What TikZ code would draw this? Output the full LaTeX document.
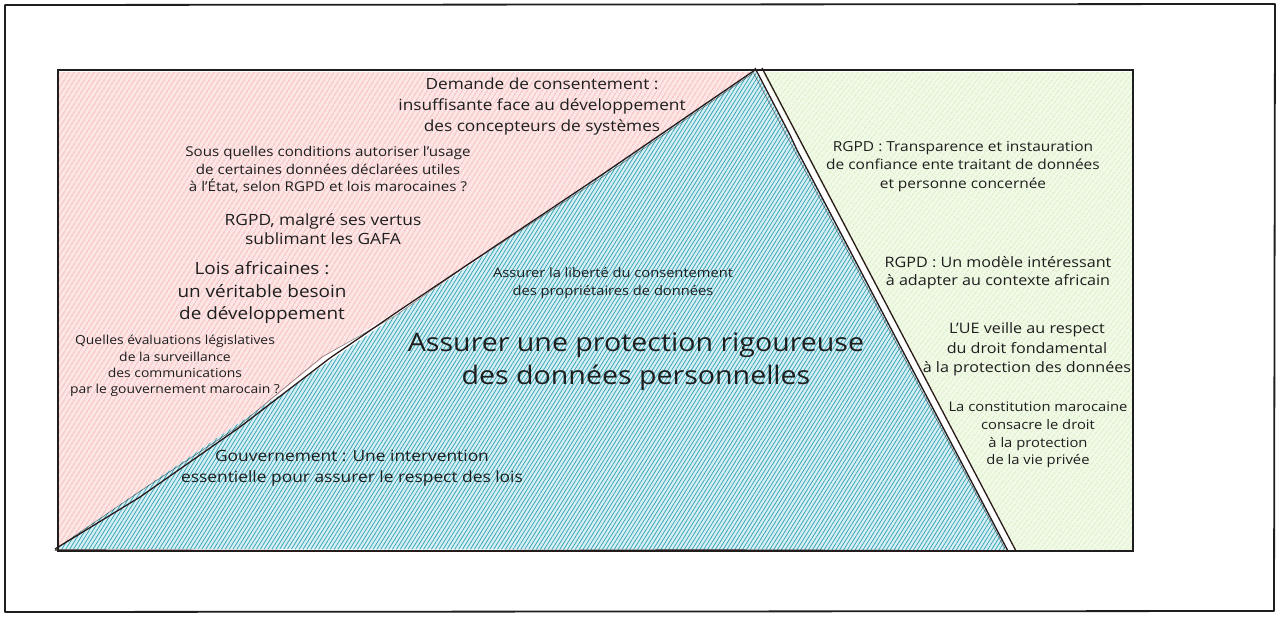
\documentclass[tikz,border=0pt]{standalone}
\usepackage{fontspec}
\setmainfont{Open Sans}[FakeStretch=1.12]
\usetikzlibrary{patterns.meta}
\definecolor{ink}{HTML}{1E1E1E}
\definecolor{edgeink}{HTML}{2A1A1A}
\definecolor{redbase}{HTML}{FCE6E6}
\definecolor{redline}{HTML}{F29C9C}
\definecolor{bluebase}{HTML}{D6EFF3}
\definecolor{blueline}{HTML}{33A3B7}
\definecolor{greenbase}{HTML}{F1F9E7}
\definecolor{greenline}{HTML}{C6E3A2}
\begin{document}
\begin{tikzpicture}[x=1pt,y=-1pt,
  txt/.style={text=ink, align=center, inner sep=0pt},
  fs/.style 2 args={font=\fontsize{#1}{#2}\selectfont},
  edge/.style={draw=edgeink, line width=1.3pt, line join=round},
  thinedge/.style={draw=edgeink, line width=0.6pt, opacity=0.55, line join=round}]
\useasboundingbox (0,0) rectangle (1280,617);
\fill[white] (0,0) rectangle (1280,617);
% regions
\fill[redbase] (59,72) -- (754,72) -- (600,175) -- (470,262) -- (392,314) -- (325,356) -- (240,425) -- (140,495) -- (57,548) -- cycle;
\fill[pattern={Lines[angle=58,distance=4pt,line width=0.75pt]}, pattern color=redline]
  (59,72) -- (754,72) -- (600,175) -- (470,262) -- (392,314) -- (325,356) -- (240,425) -- (140,495) -- (57,548) -- cycle;
\fill[greenbase] (762,72) -- (1132,72) -- (1132,550) -- (1016,550) -- cycle;
\fill[pattern={Lines[angle=52,distance=4pt,line width=0.65pt]}, pattern color=greenline]
  (762,72) -- (1132,72) -- (1132,550) -- (1016,550) -- cycle;
\fill[bluebase] (755,70) -- (1008,550) -- (55,549) -- cycle;
\fill[pattern={Lines[angle=58,distance=3.3pt,line width=0.75pt]}, pattern color=blueline]
  (755,70) -- (1008,550) -- (55,549) -- cycle;
% outlines
\draw[ink, line width=1.8pt, line join=round] (5,5) -- (1275,4) -- (1274,611) -- (5,612) -- cycle;
\draw[ink, line width=1.6pt] (58,70) rectangle (1133,551);
\draw[edge] (755,68) -- (790,135) -- (797,150) -- (1008,551);
\draw[thinedge] (753,72) -- (1005,549);
\draw[edge] (762,68) -- (1016,551);
\draw[edge] (755,70) -- (600,176) -- (470,263) -- (400,310) -- (330,358) -- (240,427) -- (140,497) -- (55,549);
\draw[thinedge] (752,74) -- (598,180) -- (466,266) -- (395,316) -- (322,357) -- (236,428) -- (136,494) -- (60,546);
\draw[edge] (55,550) -- (400,551) -- (700,550) -- (1008,551);
% texts
\node[txt, fs={15.4}{21}] (t1) at (542,106.5) {Demande de consentement :\\insuffisante face au développement\\des concepteurs de systèmes};
\node[txt, fs={13.5}{17.5}] (t2) at (328,170) {Sous quelles conditions autoriser l'usage\\de certaines données déclarées utiles\\à l'État, selon RGPD et lois marocaines ?};
\node[txt, fs={15.5}{18.5}] (t3) at (323,229) {RGPD, malgré ses vertus\\sublimant les GAFA};
\node[txt, fs={16.9}{22.5}] (t4) at (262,293) {Lois africaines :\\un véritable besoin\\de développement};
\node[txt, fs={12.4}{16.2}] (t5) at (175,366) {Quelles évaluations législatives\\de la surveillance\\des communications\\par le gouvernement marocain ?};
\node[txt, fs={13.1}{18}] (t6) at (613,283) {Assurer la liberté du consentement\\des propriétaires de données};
\node[txt, fs={25.5}{33.5}] (t7) at (636,361.5) {Assurer une protection rigoureuse\\des données personnelles};
\node[txt, fs={15.5}{21}] (t8) at (352,468.5) {Gouvernement : Une intervention\\essentielle pour assurer le respect des lois};
\node[txt, fs={13.8}{18.5}] (t9) at (963,166.5) {RGPD : Transparence et instauration\\de confiance ente traitant de données\\et personne concernée};
\node[txt, fs={14.4}{18}] (t10) at (998,273) {RGPD : Un modèle intéressant\\à adapter au contexte africain};
\node[txt, fs={14.4}{19.5}] (t11) at (1027,349.5) {L'UE veille au respect\\du droit fondamental\\à la protection des données};
\node[txt, fs={13.2}{17.7}] (t12) at (1038,435) {La constitution marocaine\\consacre le droit\\à la protection\\de la vie privée};
\end{tikzpicture}
\end{document}
